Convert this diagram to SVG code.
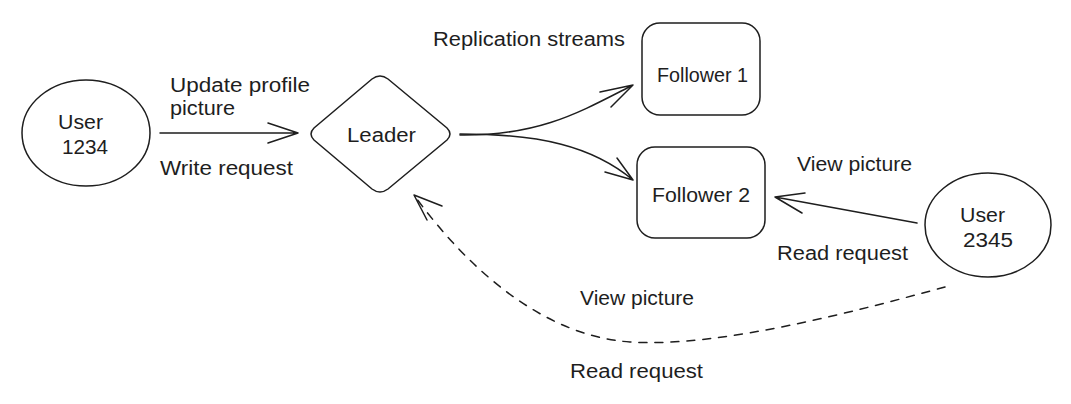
<svg xmlns="http://www.w3.org/2000/svg" width="1071" height="404" viewBox="0 0 1071 404">
<style>
.s{fill:none;stroke:#1e1e1e;stroke-width:1.5;stroke-linecap:round;stroke-linejoin:round}
.n{fill:#ffffff;stroke:#1e1e1e;stroke-width:1.5}
.t{font-family:"Liberation Sans",Arial,sans-serif;font-size:20px;fill:#1e1e1e}
.m{text-anchor:middle}
.d{stroke-dasharray:8 8}
</style>
<rect width="1071" height="404" fill="#ffffff"/>
<g id="connectors">
<path class="s" d="M160,133 L298,133 M268,123 L298,133 L268,143"/>
<path class="s" d="M460,135 C540,136 580,112 633,85 M600,92 L633,85 L611,107"/>
<path class="s" d="M460,134 C540,134 592,146 633,180 M605,172 L633,180 L617,158"/>
<path class="s" d="M917,223 L775,197 M805,193 L775,197 L802,213"/>
<path class="s d" d="M945,287 C860,310 720,348 630,342 C545,336 470,272 414,195"/>
<path class="s" d="M442,206 L414,195 L427,220"/>
</g>
<g id="user1234">
<ellipse class="n" cx="86" cy="133" rx="64" ry="53"/>
<text class="t" x="58" y="129" textLength="45" lengthAdjust="spacingAndGlyphs">User</text>
<text class="t" x="62" y="154" textLength="46" lengthAdjust="spacingAndGlyphs">1234</text>
</g>
<g id="leader">
<path class="n" d="M372,79 Q380,73 388,79 L447,128 Q453,134 447,140 L388,189 Q380,195 372,189 L314,140 Q308,134 314,128 Z"/>
<text class="t" x="347" y="142" textLength="69" lengthAdjust="spacingAndGlyphs">Leader</text>
</g>
<g id="follower1">
<rect class="n" x="642" y="23" width="118" height="92" rx="18"/>
<text class="t" x="657" y="82" textLength="91" lengthAdjust="spacingAndGlyphs">Follower 1</text>
</g>
<g id="follower2">
<rect class="n" x="637" y="147" width="128" height="91" rx="18"/>
<text class="t" x="652" y="202" textLength="98" lengthAdjust="spacingAndGlyphs">Follower 2</text>
</g>
<g id="user2345">
<ellipse class="n" cx="988" cy="225" rx="63" ry="52"/>
<text class="t" x="960" y="222" textLength="45" lengthAdjust="spacingAndGlyphs">User</text>
<text class="t" x="963" y="247" textLength="50" lengthAdjust="spacingAndGlyphs">2345</text>
</g>
<g id="labels">
<text class="t" x="170" y="92" textLength="140" lengthAdjust="spacingAndGlyphs">Update profile</text>
<text class="t" x="170" y="115" textLength="65" lengthAdjust="spacingAndGlyphs">picture</text>
<text class="t" x="160" y="175" textLength="133" lengthAdjust="spacingAndGlyphs">Write request</text>
<text class="t" x="433" y="46" textLength="192" lengthAdjust="spacingAndGlyphs">Replication streams</text>
<text class="t" x="797" y="171" textLength="115" lengthAdjust="spacingAndGlyphs">View picture</text>
<text class="t" x="777" y="260" textLength="131" lengthAdjust="spacingAndGlyphs">Read request</text>
<text class="t" x="580" y="305" textLength="114" lengthAdjust="spacingAndGlyphs">View picture</text>
<text class="t" x="570" y="378" textLength="133" lengthAdjust="spacingAndGlyphs">Read request</text>
</g>
</svg>
